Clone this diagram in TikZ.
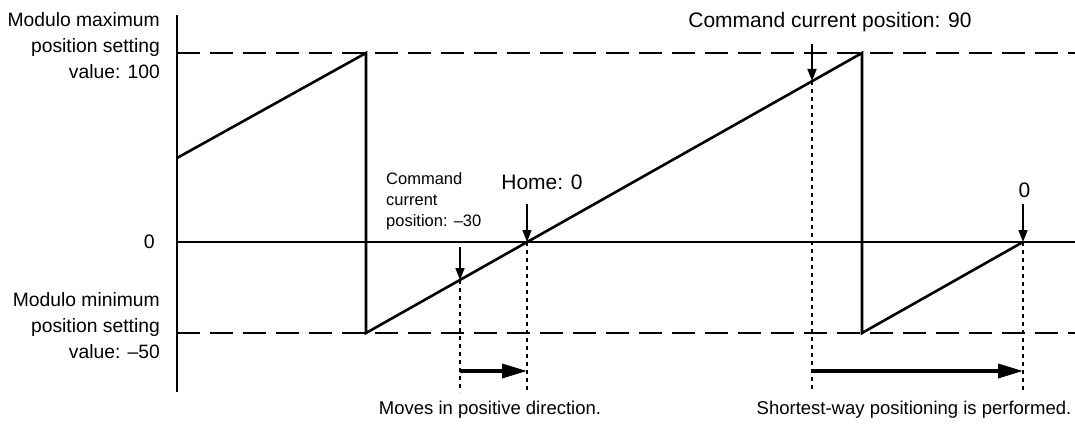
\documentclass[tikz,border=0pt]{standalone}
\usepackage{fontspec}
\setmainfont{Liberation Sans}
\usetikzlibrary{arrows.meta}
\tikzset{
  solidline/.style={line width=2.6pt, line cap=butt},
  zeroline/.style={line width=1.8pt},
  limitline/.style={line width=2.6pt, dash pattern=on 23pt off 10pt},
  guide/.style={line width=1.5pt, dash pattern=on 4pt off 4pt},
  pointer/.style={line width=1.6pt, -{Triangle[length=12pt,width=9pt]}},
  motion/.style={line width=3.4pt, -{Triangle[length=25pt,width=14pt]}},
  lbl/.style={inner sep=0pt, font=\fontsize{18.5}{26}\selectfont},
  sidelbl/.style={inner sep=0pt, font=\fontsize{19.3}{26}\selectfont},
  biglbl/.style={inner sep=0pt, font=\fontsize{21}{26}\selectfont},
  smalllbl/.style={inner sep=0pt, font=\fontsize{16.5}{21}\selectfont, align=left},
}
\begin{document}
\begin{tikzpicture}[x=1pt,y=-1pt]
\useasboundingbox (0,0) rectangle (1075,425);
% coordinates
\coordinate (axtop) at (177,15);
\coordinate (axbot) at (177,392);
\coordinate (maxL) at (177,53);
\coordinate (maxR) at (1075,53);
\coordinate (zeroL) at (177,242);
\coordinate (zeroR) at (1075,242);
\coordinate (minL) at (177,333);
\coordinate (minR) at (1075,333);
\coordinate (r1s) at (177,158);
\coordinate (p1top) at (366,53);
\coordinate (p1bot) at (366,333);
\coordinate (p2top) at (862,53);
\coordinate (p2bot) at (862,333);
\coordinate (end0) at (1023,242);
\coordinate (home) at (527,242);
\coordinate (m30) at (460,280);
\coordinate (m30top) at (460,247);
\coordinate (c90) at (812,81);
\coordinate (c90top) at (812,44);
\coordinate (hometop) at (527,204);
\coordinate (end0top) at (1023,204);
\coordinate (m30b) at (460,392);
\coordinate (homeb) at (527,392);
\coordinate (c90b) at (812,392);
\coordinate (end0b) at (1023,392);
\coordinate (a1s) at (460,371);
\coordinate (a1e) at (527,371);
\coordinate (a2s) at (812,371);
\coordinate (a2e) at (1023,371);

% reference lines
\draw[limitline] (maxL) -- (maxR);
\draw[limitline] (minL) -- (minR);
\draw[zeroline] (zeroL) -- (zeroR);
\draw[solidline] (axtop) -- (axbot);

% guides
\draw[guide] (m30) -- (m30b);
\draw[guide] (home) -- (homeb);
\draw[guide] (c90) -- (c90b);
\draw[guide] (end0) -- (end0b);

% position profile
\draw[solidline, line join=miter] (r1s) -- (p1top) -- (p1bot) -- (p2top) -- (p2bot) -- (end0);

% pointers
\draw[pointer] (m30top) -- (m30);
\draw[pointer] (hometop) -- (home);
\draw[pointer] (c90top) -- (c90);
\draw[pointer] (end0top) -- (end0);

% motion arrows
\draw[motion] (a1s) -- (a1e);
\draw[motion] (a2s) -- (a2e);

% labels
\node[sidelbl, align=right, anchor=east] (maxlbl) at (160,46) {Modulo maximum\\position setting\\value: 100};
\node[sidelbl, anchor=east, font=\fontsize{19.5}{26}\selectfont] (zerolbl) at (155,242) {0};
\node[sidelbl, align=right, anchor=east] (minlbl) at (160,326) {Modulo minimum\\position setting\\value: \textendash 50};
\node[smalllbl, anchor=west] (m30lbl) at (386,201) {Command\\current\\position: \textendash 30};
\node[biglbl] (homelbl) at (542,182) {Home: 0};
\node[biglbl] (c90lbl) at (830,22) {Command current position: 90};
\node[biglbl] (end0lbl) at (1024.5,190) {0};
\node[lbl] (poslbl) at (490,410) {Moves in positive direction.};
\node[lbl] (shortlbl) at (914,410) {Shortest-way positioning is performed.};
\end{tikzpicture}
\end{document}
